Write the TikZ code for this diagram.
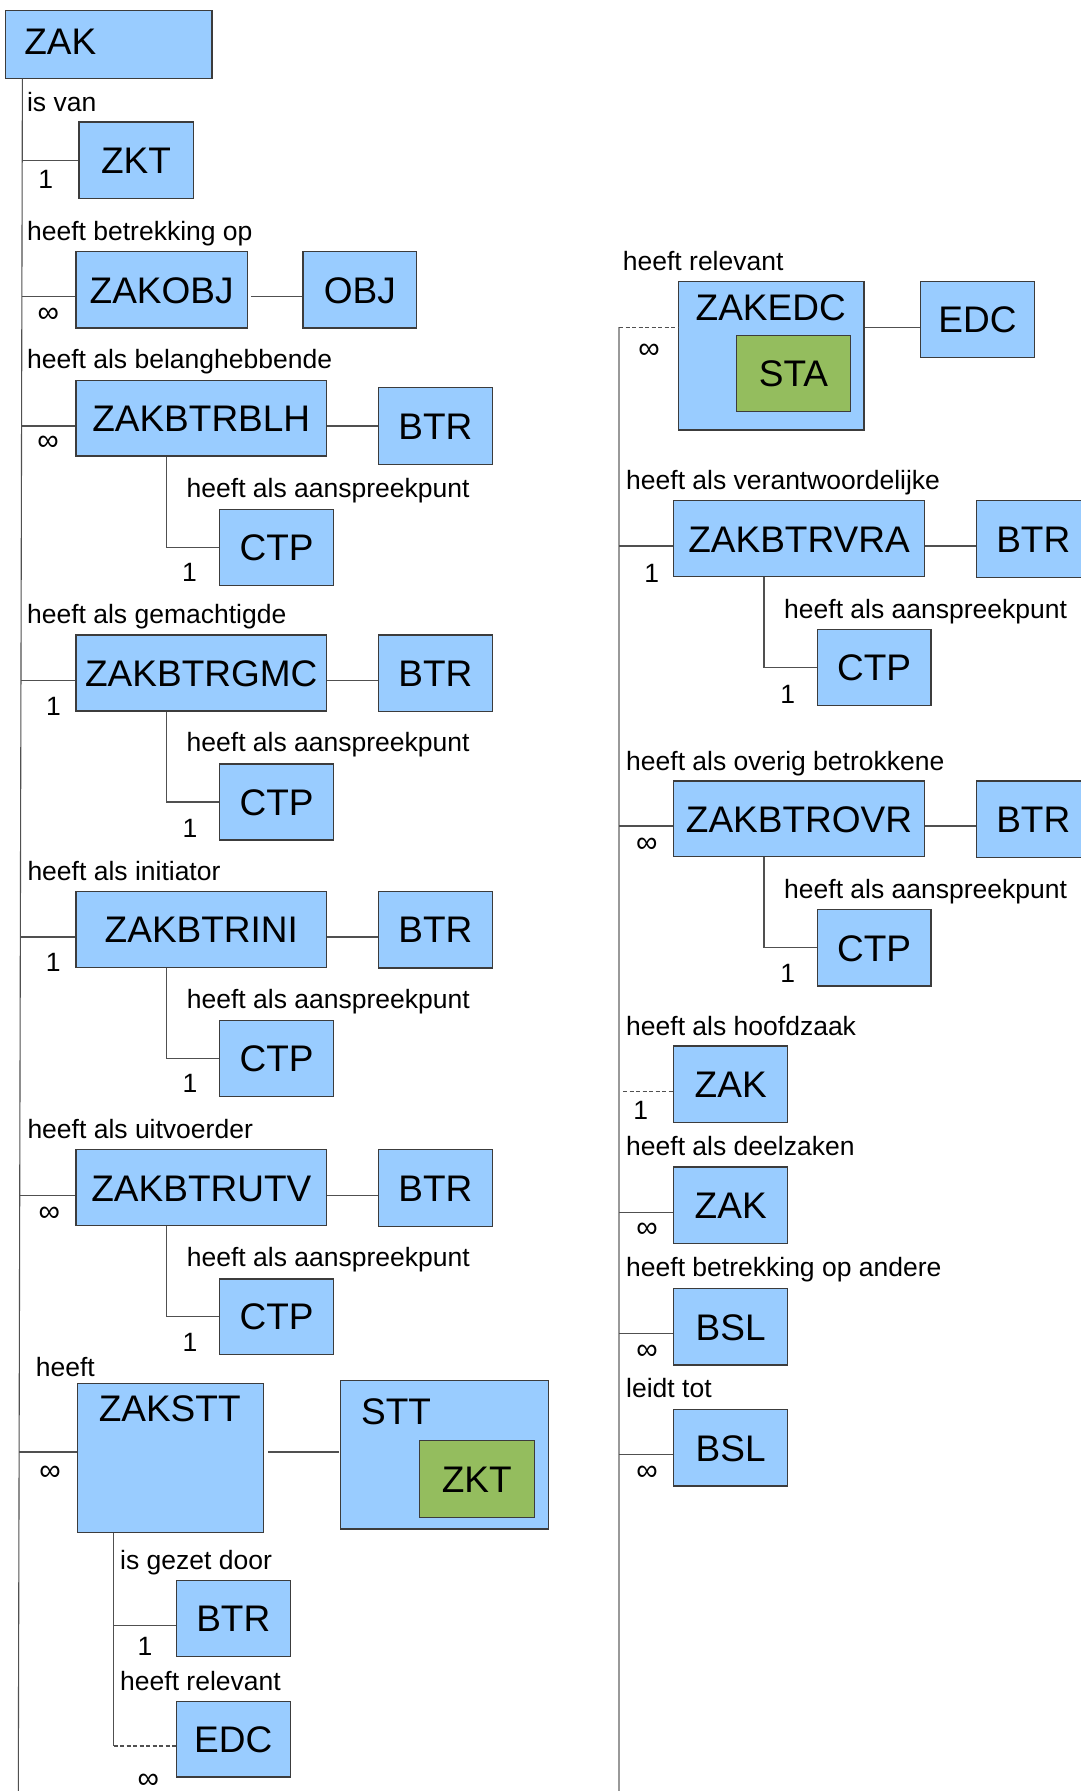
\documentclass[tikz,border=0pt]{standalone}
\usepackage{fontspec}
\setmainfont{Liberation Sans}
\usetikzlibrary{calc}
\definecolor{boxblue}{HTML}{99CCFF}
\definecolor{boxgreen}{HTML}{94BD5E}
\definecolor{boxline}{HTML}{3C3C3C}
\definecolor{connc}{HTML}{505050}
\definecolor{connlight}{HTML}{999999}
\newcommand\lblfont{\fontsize{26.5}{30}\selectfont}
\newcommand\boxfont{\fontsize{37}{42}\selectfont}
\newcommand\inffont{\fontsize{30}{34}\selectfont}
\newcommand\mkbox[7][box]{\node[#1, minimum width={#5-#3}, minimum height={#6-#4}] (#2) at ({(#3+#5)/2},{(#4+#6)/2}) {#7};}
\tikzset{
  box/.style={draw=boxline, line width=1.4pt, fill=boxblue, inner sep=0pt, font=\boxfont, text height=26.6pt, text depth=0pt},
  gbox/.style={box, fill=boxgreen},
  boxtext/.style={inner sep=0pt, font=\boxfont},
  lab/.style={anchor=base west, inner sep=0pt, font=\lblfont},
  one/.style={inner sep=0pt, font=\lblfont},
  inf/.style={inner sep=0pt, font=\inffont},
  conn/.style={draw=connc, line width=1.1pt},
  dconn/.style={conn, dash pattern=on 4pt off 2.5pt},
}
\begin{document}
\begin{tikzpicture}[x=1pt,y=-1pt]
\useasboundingbox (0,0) rectangle (1081,1791);
\fill[white] (0,0) rectangle (1081,1791);

% ---------- left column boxes ----------
\mkbox{zak}{5.2}{10.3}{211.8}{78.7}{}
\node[boxtext, anchor=base west] (zakT) at (24.1,54) {ZAK};
\mkbox{zkt}{78.9}{122}{193.2}{198.3}{ZKT}
\mkbox{zakobj}{76.1}{251.7}{247.2}{328}{ZAKOBJ}
\mkbox{obj}{303}{251.7}{416.7}{328}{OBJ}
\mkbox{blh}{76.1}{380.3}{326.4}{456}{ZAKBTRBLH}
\mkbox{btrA}{378.4}{387.3}{492.4}{464.3}{BTR}
\mkbox{ctpA}{219.5}{509.3}{333.7}{585.3}{CTP}
\mkbox{gmc}{76.1}{635}{326.4}{711}{ZAKBTRGMC}
\mkbox{btrB}{378.4}{635}{492.4}{711.3}{BTR}
\mkbox{ctpB}{219.5}{764}{333.7}{840}{CTP}
\mkbox{ini}{76.1}{891.3}{326.6}{967.3}{ZAKBTRINI}
\mkbox{btrC}{378.4}{891.3}{492.4}{968}{BTR}
\mkbox{ctpC}{219.5}{1020.3}{333.7}{1096.3}{CTP}
\mkbox{utv}{76.1}{1149.7}{326.6}{1225.7}{ZAKBTRUTV}
\mkbox{btrD}{378.4}{1149.7}{492.4}{1226.3}{BTR}
\mkbox{ctpD}{219.5}{1279}{333.7}{1354.3}{CTP}
\mkbox{zakstt}{77.7}{1383.3}{263.3}{1532.3}{}
\node[boxtext, anchor=base] (zaksttT) at (169.7,1421.7) {ZAKSTT};
\mkbox{stt}{340.7}{1380.7}{548.3}{1529}{}
\node[boxtext, anchor=base west] (sttT) at (361,1424.3) {STT};
\mkbox[gbox]{zktG}{419.3}{1440.3}{534.3}{1517.3}{ZKT}
\mkbox{btrS}{176.3}{1580.7}{290.3}{1656.3}{BTR}
\mkbox{edcS}{176.3}{1701.3}{290.3}{1777}{EDC}

% ---------- right column boxes ----------
\mkbox{zakedc}{678.7}{281.7}{864}{430}{}
\node[boxtext, anchor=base] (zakedcT) at (770.7,320) {ZAKEDC};
\mkbox[gbox]{sta}{736.7}{335.3}{850.3}{411.3}{STA}
\mkbox{edc}{920.7}{281.7}{1034.3}{357.3}{EDC}
\mkbox{vra}{673.7}{500.7}{924.3}{576.7}{ZAKBTRVRA}
\mkbox{btrE}{976.3}{500.7}{1090.3}{577.3}{BTR}
\mkbox{ctpE}{817.3}{629.3}{931}{705.3}{CTP}
\mkbox{ovr}{673.7}{781}{924.3}{856.7}{ZAKBTROVR}
\mkbox{btrF}{976.3}{781}{1090.3}{857.3}{BTR}
\mkbox{ctpF}{817.3}{909.7}{931}{986}{CTP}
\mkbox{zakH}{673.7}{1046}{787.7}{1122.3}{ZAK}
\mkbox{zakD}{673.7}{1167}{787.7}{1243.3}{ZAK}
\mkbox{bslA}{673.7}{1288.7}{787.7}{1365}{BSL}
\mkbox{bslB}{673.7}{1409.7}{787.7}{1486}{BSL}

% ---------- left connectors ----------
\coordinate (Ltop) at (22.4,78.7);
\coordinate (Lbot) at (18.3,1791);
\coordinate (l1) at (22.2,160.3);
\coordinate (l2) at (21.9,296.3);
\coordinate (l3) at (21.6,426);
\coordinate (l4) at (21.0,680.3);
\coordinate (l5) at (20.3,937);
\coordinate (l6) at (19.7,1195.3);
\coordinate (l7) at (19.1,1452);
\draw[conn] (Ltop) -- (Lbot);
\draw[conn] (l1) -- (l1 -| zkt.west);
\draw[conn] (l2) -- (l2 -| zakobj.west);
\draw[conn, shorten <=3pt] (l2 -| zakobj.east) -- (l2 -| obj.west);
\draw[conn] (l3) -- (l3 -| blh.west);
\draw[conn] (l3 -| blh.east) -- (l3 -| btrA.west);
\draw[conn] ([xshift=91.4pt]blh.south west) |- (ctpA.west);
\draw[conn] (l4) -- (l4 -| gmc.west);
\draw[conn] (l4 -| gmc.east) -- (l4 -| btrB.west);
\draw[conn] ([xshift=91.4pt]gmc.south west) |- (ctpB.west);
\draw[conn] (l5) -- (l5 -| ini.west);
\draw[conn] (l5 -| ini.east) -- (l5 -| btrC.west);
\draw[conn] ([xshift=91.4pt]ini.south west) |- (ctpC.west);
\draw[conn] (l6) -- (l6 -| utv.west);
\draw[conn] (l6 -| utv.east) -- (l6 -| btrD.west);
\draw[conn] ([xshift=91.4pt]utv.south west) |- (ctpD.west);
\draw[conn] (l7) -- (l7 -| zakstt.west);
\draw[conn, shorten <=4pt, shorten >=1.5pt] (l7 -| zakstt.east) -- (l7 -| stt.west);
\coordinate (s1) at ([xshift=36.6pt]zakstt.south west);
\coordinate (btrSc) at ([yshift=-7.2pt]btrS.west);
\coordinate (edcSc) at ([yshift=-6.8pt]edcS.west);
\draw[conn] (s1) -- (s1 |- edcSc);
\draw[conn] (s1 |- btrSc) -- (btrSc);
\draw[dconn] (s1 |- edcSc) -- (edcSc);

% ---------- right connectors ----------
\coordinate (r0) at (619,327.3);
\coordinate (Rbot) at (619,1791);
\coordinate (r1) at (619,546);
\coordinate (r2) at (619,826);
\coordinate (r3) at (619,1091.7);
\coordinate (r4) at (619,1212.7);
\coordinate (r5) at (619,1333.3);
\coordinate (r6) at (619,1454.7);
\draw[conn, draw=connlight] (r0) -- (Rbot);
\draw[dconn] (r0) -- (r0 -| zakedc.west);
\draw[conn] (r0 -| zakedc.east) -- (r0 -| edc.west);
\draw[conn] (r1) -- (r1 -| vra.west);
\draw[conn] (r1 -| vra.east) -- (r1 -| btrE.west);
\draw[conn] ([xshift=91pt]vra.south west) |- (ctpE.west);
\draw[conn] (r2) -- (r2 -| ovr.west);
\draw[conn] (r2 -| ovr.east) -- (r2 -| btrF.west);
\draw[conn] ([xshift=91pt]ovr.south west) |- (ctpF.west);
\draw[dconn] ([xshift=4pt]r3) -- (r3 -| zakH.west);
\draw[conn] (r4) -- (r4 -| zakD.west);
\draw[conn] (r5) -- (r5 -| bslA.west);
\draw[conn] (r6) -- (r6 -| bslB.west);

% ---------- labels ----------
\node[lab] (t1) at (26.9,111.7) {is van};
\node[lab] (t2) at (26.9,240) {heeft betrekking op};
\node[lab] (t3) at (26.9,368.3) {heeft als belanghebbende};
\node[lab] (t4) at (186.5,497.3) {heeft als aanspreekpunt};
\node[lab] (t5) at (26.9,623.3) {heeft als gemachtigde};
\node[lab] (t6) at (186.5,751.7) {heeft als aanspreekpunt};
\node[lab] (t7) at (27.3,880.7) {heeft als initiator};
\node[lab] (t8) at (186.7,1008.7) {heeft als aanspreekpunt};
\node[lab] (t9) at (27.3,1138.3) {heeft als uitvoerder};
\node[lab] (t10) at (186.7,1266.7) {heeft als aanspreekpunt};
\node[lab] (t11) at (35.7,1376) {heeft};
\node[lab] (t12) at (120,1569.3) {is gezet door};
\node[lab] (t13) at (120,1690) {heeft relevant};
\node[lab] (u1) at (622.7,270.7) {heeft relevant};
\node[lab] (u2) at (626,489.3) {heeft als verantwoordelijke};
\node[lab] (u3) at (784,618.3) {heeft als aanspreekpunt};
\node[lab] (u4) at (626,770) {heeft als overig betrokkene};
\node[lab] (u5) at (784,898.3) {heeft als aanspreekpunt};
\node[lab] (u6) at (626,1035) {heeft als hoofdzaak};
\node[lab] (u7) at (626,1155) {heeft als deelzaken};
\node[lab] (u8) at (626,1276.7) {heeft betrekking op andere};
\node[lab] (u9) at (626,1397.7) {leidt tot};

% ---------- multiplicities ----------
\node[one] (m1) at (45.8,179) {1};
\node[inf] (m2) at (48.2,315) {∞};
\node[inf] (m3) at (48,443) {∞};
\node[one] (m4) at (189.4,572.3) {1};
\node[one] (m5) at (53.4,706.7) {1};
\node[one] (m6) at (190,828.3) {1};
\node[one] (m7) at (53.3,962.7) {1};
\node[one] (m8) at (190,1083.3) {1};
\node[inf] (m9) at (49.3,1214.3) {∞};
\node[one] (m10) at (190,1342.7) {1};
\node[inf] (m11) at (50,1473.3) {∞};
\node[one] (m12) at (145,1646.7) {1};
\node[inf] (m13) at (148.3,1781) {∞};
\node[inf] (n1) at (649,351.7) {∞};
\node[one] (n2) at (651.7,573) {1};
\node[one] (n3) at (787.7,694) {1};
\node[inf] (n4) at (646.7,845) {∞};
\node[one] (n5) at (787.7,973.3) {1};
\node[one] (n6) at (640.7,1110.7) {1};
\node[inf] (n7) at (647,1230) {∞};
\node[inf] (n8) at (647,1352.3) {∞};
\node[inf] (n9) at (647,1473.3) {∞};
\end{tikzpicture}
\end{document}
